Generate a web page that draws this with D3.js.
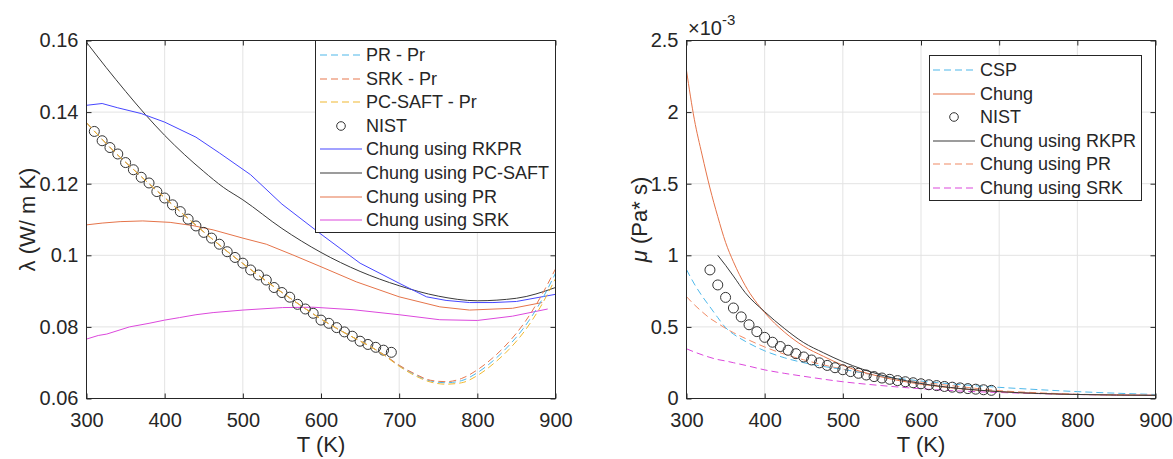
<!DOCTYPE html>
<html>
<head>
<meta charset="utf-8">
<script src="https://cdn.jsdelivr.net/npm/d3@7"></script>
<style>
  html, body { margin: 0; padding: 0; background: #fff; }
  svg { display: block; font-family: "Liberation Sans", Arial, Helvetica, sans-serif; }
</style>
</head>
<body>
<svg id="chart" width="1173" height="459"></svg>
<script>
// ---------------- DATA ----------------
// Left panel: thermal conductivity lambda (W/m K) vs T (K)
const xTicks = [300, 400, 500, 600, 700, 800, 900];
const lamTicks = [0.06, 0.08, 0.10, 0.12, 0.14, 0.16];
const lamTickLabels = ["0.06", "0.08", "0.1", "0.12", "0.14", "0.16"];

const T_pr = [300,320,340,360,380,400,420,440,460,480,500,520,540,560,580,600,620,640,660,680,700,720,740,760,780,800,820,840,860,880,900];
const lam_PR_Pr = [0.1370,0.1324,0.1280,0.1240,0.1200,0.1161,0.1122,0.1084,0.1047,0.1011,0.0977,0.0944,0.0912,0.0881,0.0851,0.0822,0.0796,0.0772,0.0749,0.0723,0.0692,0.0667,0.0649,0.0644,0.0650,0.0672,0.0705,0.0747,0.0799,0.0866,0.0950];
const lam_SRK_Pr = [0.1370,0.1324,0.1280,0.1240,0.1200,0.1161,0.1122,0.1084,0.1047,0.1011,0.0977,0.0944,0.0912,0.0881,0.0851,0.0822,0.0796,0.0772,0.0749,0.0723,0.0693,0.0669,0.0651,0.0647,0.0656,0.0680,0.0714,0.0757,0.0811,0.0880,0.0962];
const lam_PCSAFT_Pr = [0.1370,0.1324,0.1280,0.1240,0.1200,0.1161,0.1122,0.1084,0.1047,0.1011,0.0977,0.0944,0.0912,0.0881,0.0851,0.0822,0.0796,0.0772,0.0749,0.0722,0.0690,0.0664,0.0646,0.0640,0.0644,0.0664,0.0696,0.0736,0.0787,0.0853,0.0935];

const T_nistL = [310,320,330,340,350,360,370,380,390,400,410,420,430,440,450,460,470,480,490,500,510,520,530,540,550,560,570,580,590,600,610,620,630,640,650,660,670,680,690];
const lam_NIST = [0.1346,0.1320,0.1301,0.1283,0.1259,0.1239,0.1218,0.1202,0.1178,0.1160,0.1141,0.1122,0.1101,0.1082,0.1064,0.1048,0.1031,0.1010,0.0994,0.0978,0.0959,0.0945,0.0931,0.0910,0.0896,0.0883,0.0863,0.0850,0.0838,0.0819,0.0810,0.0798,0.0786,0.0774,0.0760,0.0751,0.0743,0.0735,0.0729];

const T_rkpr = [300,320,340,370,400,440,470,510,550,600,650,700,735,760,790,820,850,900];
const lam_ChungRKPR = [0.1419,0.1424,0.1412,0.1396,0.1372,0.1330,0.1286,0.1225,0.1143,0.1059,0.0978,0.0922,0.0884,0.0874,0.0868,0.0868,0.0871,0.0891];

const T_pcsaft = [300,325,350,375,400,425,450,475,500,550,600,650,700,750,800,850,900];
const lam_ChungPCSAFT = [0.1595,0.1525,0.1458,0.1394,0.1335,0.1282,0.1234,0.1190,0.1155,0.1075,0.1008,0.0955,0.0915,0.0886,0.0873,0.0880,0.0910];

const T_cpr = [300,320,343,372,407,436,462,500,530,564,600,645,700,752,790,845,883];
const lam_ChungPR = [0.1085,0.1090,0.1094,0.1096,0.1092,0.1083,0.1071,0.1048,0.1031,0.1001,0.0968,0.0926,0.0884,0.0856,0.0847,0.0852,0.0868];

const T_csrk = [300,315,326,355,380,400,419,440,462,500,551,590,641,700,752,800,845,890];
const lam_ChungSRK = [0.0766,0.0776,0.0780,0.0800,0.0810,0.0819,0.0826,0.0834,0.0840,0.0847,0.0854,0.0855,0.0848,0.0834,0.0820,0.0818,0.0830,0.0850];

// Right panel: viscosity mu (units of 1e-3 Pa s) vs T (K)
const muTicks = [0, 0.5, 1, 1.5, 2, 2.5];
const muTickLabels = ["0", "0.5", "1", "1.5", "2", "2.5"];

const T_mu = [300,310,320,330,340,350,360,375,400,425,450,475,500,550,600,650,700,750,800,850,900];
const mu_CSP = [0.900,0.800,0.715,0.640,0.565,0.495,0.450,0.400,0.333,0.285,0.250,0.224,0.203,0.157,0.122,0.097,0.078,0.062,0.048,0.037,0.028];
const mu_Chung = [2.290,1.950,1.700,1.470,1.270,1.090,0.955,0.790,0.600,0.465,0.365,0.295,0.232,0.150,0.100,0.068,0.048,0.036,0.028,0.025,0.023];
const mu_ChungPR = [0.711,0.655,0.605,0.560,0.525,0.490,0.460,0.420,0.360,0.310,0.270,0.235,0.205,0.155,0.115,0.083,0.055,0.040,0.030,0.025,0.022];
const mu_ChungSRK = [0.347,0.325,0.305,0.287,0.272,0.262,0.250,0.232,0.200,0.176,0.155,0.135,0.117,0.090,0.068,0.052,0.042,0.034,0.028,0.024,0.022];

const T_muRKPR = [340,350,360,375,400,425,450,475,500,550,600,650,700,750,800,850,900];
const mu_ChungRKPR = [1.000,0.930,0.855,0.740,0.606,0.490,0.390,0.320,0.257,0.163,0.105,0.070,0.048,0.035,0.028,0.024,0.022];

const T_nistR = [330,340,350,360,370,380,390,400,410,420,430,440,450,460,470,480,490,500,510,520,530,540,550,560,570,580,590,600,610,620,630,640,650,660,670,680,690];
const mu_NIST = [0.898,0.793,0.706,0.632,0.570,0.515,0.467,0.427,0.393,0.363,0.337,0.313,0.290,0.269,0.249,0.231,0.215,0.201,0.188,0.176,0.164,0.153,0.143,0.134,0.125,0.117,0.110,0.103,0.096,0.090,0.084,0.079,0.074,0.069,0.065,0.061,0.057];

const legendLeft = ["PR - Pr", "SRK - Pr", "PC-SAFT - Pr", "NIST", "Chung using RKPR", "Chung using PC-SAFT", "Chung using PR", "Chung using SRK"];
const legendRight = ["CSP", "Chung", "NIST", "Chung using RKPR", "Chung using PR", "Chung using SRK"];

// ---------------- DRAWING ----------------
const svg = d3.select("#chart");
const TXT = "#262626";
const GRID = "#e3e3e3";
const C = {
  lblue: "#4fb8ea", salmon: "#e8784e", yellow: "#f0b830",
  blue: "#4646ff", black: "#3a3a3a", orange: "#e5744a", magenta: "#dc48dc", lsalmon: "#f08a64"
};
const DASH = "7,4";

function panel(opts) {
  const g = svg.append("g");
  const x = d3.scaleLinear().domain([300, 900]).range(opts.xr);
  const y = d3.scaleLinear().domain(opts.yd).range(opts.yr);
  const [x0, x1] = opts.xr, [y0, y1] = opts.yr; // y0 bottom, y1 top
  const clipId = "clip" + opts.id;
  svg.append("clipPath").attr("id", clipId).append("rect")
    .attr("x", x0).attr("y", y1).attr("width", x1 - x0).attr("height", y0 - y1);

  g.append("g").selectAll("line").data(xTicks.slice(1, -1)).join("line")
    .attr("x1", d => x(d)).attr("x2", d => x(d)).attr("y1", y0).attr("y2", y1)
    .attr("stroke", GRID).attr("stroke-width", 1);
  g.append("g").selectAll("line").data(opts.yTicks.slice(1, -1)).join("line")
    .attr("y1", d => y(d)).attr("y2", d => y(d)).attr("x1", x0).attr("x2", x1)
    .attr("stroke", GRID).attr("stroke-width", 1);

  const plot = g.append("g").attr("clip-path", `url(#${clipId})`);
  return { g, x, y, plot, x0, x1, y0, y1, opts };
}

function axes(p) {
  const { g, x, y, x0, x1, y0, y1, opts } = p;
  const fmtY = d => opts.yLabels[opts.yTicks.indexOf(d)];
  const bottom = g.append("g").attr("transform", `translate(0,${y0})`)
    .call(d3.axisBottom(x).tickValues(xTicks).tickSize(-5).tickPadding(14).tickFormat(d3.format("d")));
  const top = g.append("g").attr("transform", `translate(0,${y1})`)
    .call(d3.axisTop(x).tickValues(xTicks).tickSize(-5).tickFormat(""));
  const left = g.append("g").attr("transform", `translate(${x0},0)`)
    .call(d3.axisLeft(y).tickValues(opts.yTicks).tickSize(-5).tickPadding(8).tickFormat(fmtY));
  const right = g.append("g").attr("transform", `translate(${x1},0)`)
    .call(d3.axisRight(y).tickValues(opts.yTicks).tickSize(-5).tickFormat(""));
  [bottom, top, left, right].forEach(a => {
    a.select(".domain").remove();
    a.selectAll("line").attr("stroke", TXT).attr("stroke-width", 1);
    a.selectAll("text").attr("fill", TXT).style("font-size", "20px")
      .style("font-family", '"Liberation Sans", Arial, sans-serif');
  });
  g.append("rect").attr("x", x0).attr("y", y1).attr("width", x1 - x0).attr("height", y0 - y1)
    .attr("fill", "none").attr("stroke", TXT).attr("stroke-width", 1);
}

function drawLine(p, xs, ys, color, dashed, curve) {
  const line = d3.line().x(d => p.x(d[0])).y(d => p.y(d[1])).curve(curve || d3.curveMonotoneX);
  p.plot.append("path").datum(xs.map((t, i) => [t, ys[i]]))
    .attr("d", line).attr("fill", "none").attr("stroke", color).attr("stroke-width", 1)
    .attr("stroke-dasharray", dashed ? DASH : null);
}
function drawCircles(p, xs, ys) {
  p.plot.append("g").selectAll("circle").data(xs.map((t, i) => [t, ys[i]])).join("circle")
    .attr("cx", d => p.x(d[0])).attr("cy", d => p.y(d[1])).attr("r", 5)
    .attr("fill", "none").attr("stroke", "#333").attr("stroke-width", 1);
}

function legend(items, styles, box, rowY0, rowDy, lineX0, lineX1, textX) {
  const lg = svg.append("g");
  lg.append("rect").attr("x", box[0]).attr("y", box[1]).attr("width", box[2]).attr("height", box[3])
    .attr("fill", "#fff").attr("stroke", TXT).attr("stroke-width", 1);
  items.forEach((d, i) => {
    const yy = Math.round(rowY0 + i * rowDy);
    const r = lg.append("g").attr("transform", `translate(0,${yy})`);
    const s = styles[i];
    if (s.marker) {
      r.append("circle").attr("cx", (lineX0 + lineX1) / 2).attr("cy", 0).attr("r", 4.3)
        .attr("fill", "none").attr("stroke", "#333").attr("stroke-width", 1);
    } else {
      r.append("line").attr("x1", lineX0).attr("x2", lineX1).attr("y1", 0).attr("y2", 0)
        .attr("stroke", s.color).attr("stroke-width", 1.1)
        .attr("stroke-dasharray", s.dashed ? DASH : null);
    }
    r.append("text").attr("x", textX).attr("y", 0).attr("dy", "0.35em")
      .attr("fill", TXT).style("font-size", "18px").text(d);
  });
}

// ---- Left panel ----
const L = panel({ id: "L", xr: [86.5, 555.5], yr: [398.5, 40.5], yd: [0.06, 0.16], yTicks: lamTicks, yLabels: lamTickLabels });
drawLine(L, T_csrk, lam_ChungSRK, C.magenta, false, d3.curveLinear);
drawLine(L, T_cpr, lam_ChungPR, C.orange, false, d3.curveLinear);
drawLine(L, T_pcsaft, lam_ChungPCSAFT, C.black, false);
drawLine(L, T_rkpr, lam_ChungRKPR, C.blue, false, d3.curveLinear);
drawCircles(L, T_nistL, lam_NIST);
drawLine(L, T_pr, lam_PR_Pr, C.lblue, true);
drawLine(L, T_pr, lam_SRK_Pr, C.salmon, true);
drawLine(L, T_pr, lam_PCSAFT_Pr, C.yellow, true);
axes(L);
svg.append("text").attr("x", (L.x0 + L.x1) / 2).attr("y", 452).attr("text-anchor", "middle")
  .attr("fill", TXT).style("font-size", "22px").text("T (K)");
svg.append("text").attr("transform", `translate(35,${(L.y0 + L.y1) / 2}) rotate(-90)`)
  .attr("text-anchor", "middle").attr("fill", TXT).style("font-size", "22px").text("λ (W/ m K)");
legend(legendLeft,
  [{ color: C.lblue, dashed: true }, { color: C.salmon, dashed: true }, { color: C.yellow, dashed: true }, { marker: true },
   { color: C.blue }, { color: C.black }, { color: C.orange }, { color: C.magenta }],
  [315.5, 40.5, 240, 192], 55, 23.6, 320, 362, 366);

// ---- Right panel ----
const R = panel({ id: "R", xr: [686.5, 1155.5], yr: [398.5, 40.5], yd: [0, 2.5], yTicks: muTicks, yLabels: muTickLabels });
drawLine(R, T_mu, mu_ChungSRK, C.magenta, true);
drawLine(R, T_mu, mu_ChungPR, C.lsalmon, true);
drawLine(R, T_mu, mu_CSP, C.lblue, true);
drawLine(R, T_mu, mu_Chung, C.orange, false);
drawLine(R, T_muRKPR, mu_ChungRKPR, C.black, false);
drawCircles(R, T_nistR, mu_NIST);
axes(R);
svg.append("text").attr("x", (R.x0 + R.x1) / 2).attr("y", 452).attr("text-anchor", "middle")
  .attr("fill", TXT).style("font-size", "22px").text("T (K)");
const ylab = svg.append("text").attr("transform", `translate(647,${(R.y0 + R.y1) / 2}) rotate(-90)`)
  .attr("text-anchor", "middle").attr("fill", TXT).style("font-size", "22px");
ylab.append("tspan").style("font-style", "italic").text("μ");
ylab.append("tspan").text(" (Pa* s)");
const expo = svg.append("text").attr("x", 688).attr("y", 35).attr("fill", TXT).style("font-size", "20px");
expo.append("tspan").text("×10");
expo.append("tspan").attr("dy", -10).style("font-size", "15px").text("-3");
legend(legendRight,
  [{ color: C.lblue, dashed: true }, { color: C.orange }, { marker: true }, { color: C.black },
   { color: C.lsalmon, dashed: true }, { color: C.magenta, dashed: true }],
  [929.5, 55.5, 212, 145], 70, 23.5, 933, 975, 980);
</script>
</body>
</html>
